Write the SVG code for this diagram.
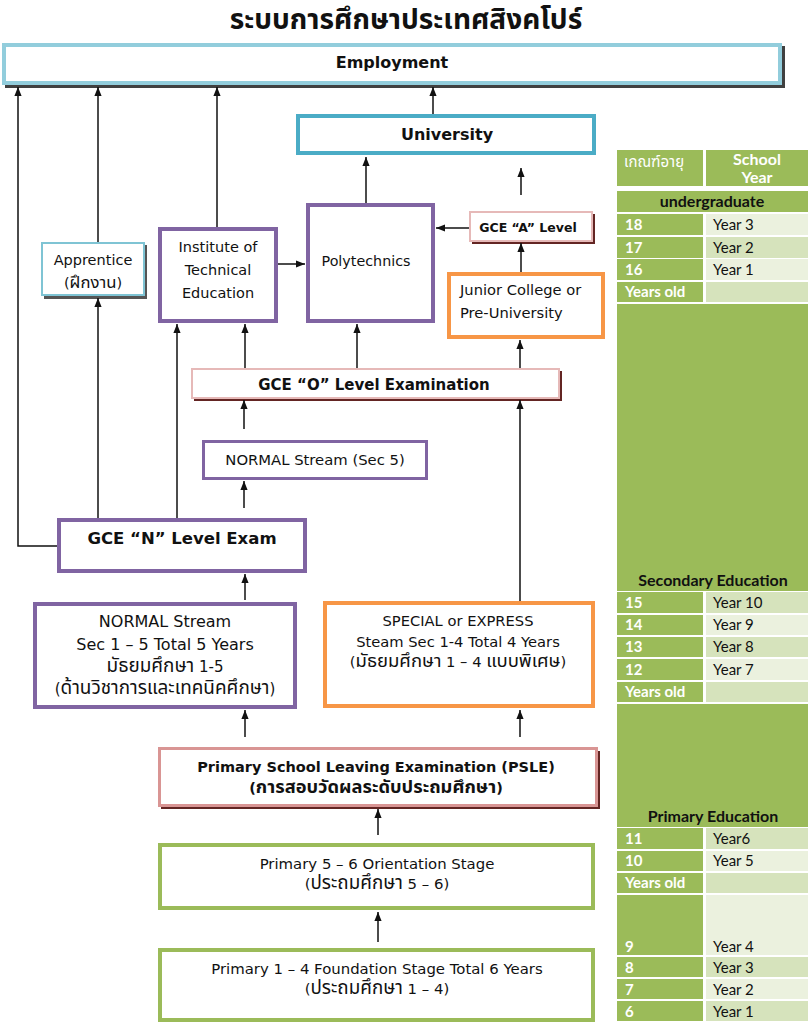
<svg xmlns="http://www.w3.org/2000/svg" width="812" height="1024" viewBox="0 0 812 1024">
<defs>
<marker id="ah" viewBox="0 0 10 8" markerWidth="9" markerHeight="8" refX="10" refY="4" orient="auto" markerUnits="userSpaceOnUse">
<path d="M0,0 L10,4 L0,8 z" fill="#111"/>
</marker>
<style>
.t{font-family:"DejaVu Sans","Noto Sans Thai","Tahoma",sans-serif;fill:#111;text-anchor:middle}
.b{font-weight:bold}
.th{font-size:1.26em}
.box{fill:#fff}
.pu{stroke:#8064a2;stroke-width:4}
.or{stroke:#f79646;stroke-width:4}
.gr{stroke:#9bbb59;stroke-width:4}
.bl{stroke:#4bacc6;stroke-width:4}
.pk{stroke:#e6b9b8;stroke-width:2}
.sh{fill:#632523}
.c{fill:none;stroke:#111;stroke-width:1.5;marker-end:url(#ah)}
.g{fill:#9bbb59}
.l{fill:#ebf1de}
.m{fill:#d6e3bc}
.tt{font-family:"Lato","Open Sans","Noto Sans Thai",sans-serif;font-size:15px}
.w{fill:#fff;font-weight:bold}
.k{fill:#111}
.hd{font-size:16px;font-weight:bold;text-anchor:middle}
</style>
</defs>
<rect width="812" height="1024" fill="#fff"/>

<text class="t b" x="406" y="29" style="font-size:28px">ระบบการศึกษาประเทศสิงคโปร์</text>

<g id="employment">
<rect x="5" y="46" width="780" height="42" fill="#404040"/>
<rect class="box" x="4" y="45" width="776" height="38" stroke="#92cddc" stroke-width="4"/>
<text class="t b" x="392" y="68" style="font-size:16px">Employment</text>
</g>

<g id="university">
<rect class="box bl" x="298" y="116" width="296" height="37"/>
<text class="t b" x="447" y="140" style="font-size:16px">University</text>
</g>

<g id="apprentice">
<rect x="44" y="245" width="103" height="54" fill="#555"/>
<rect class="box" x="42" y="243" width="102" height="52" stroke="#7fc4d4" stroke-width="2"/>
<text class="t" x="93" y="265" style="font-size:14.5px">Apprentice</text>
<text class="t" x="93" y="288" style="font-size:14.5px">(<tspan style="font-size:1.15em">ฝึกงาน</tspan>)</text>
</g>

<g id="ite">
<rect class="box pu" x="160" y="229" width="116" height="92"/>
<text class="t" x="218" y="252" style="font-size:14.5px">Institute of</text>
<text class="t" x="218" y="275" style="font-size:14.5px">Technical</text>
<text class="t" x="218" y="298" style="font-size:14.5px">Education</text>
</g>

<g id="polytechnics">
<rect class="box pu" x="308" y="205" width="125" height="116"/>
<text class="t" x="366" y="266" style="font-size:14.3px">Polytechnics</text>
</g>

<g id="gce-a">
<rect class="sh" x="472" y="214" width="123" height="30"/>
<rect class="box pk" x="470" y="212" width="122" height="29"/>
<text class="t b" x="528" y="232" style="font-size:12.5px">GCE “A” Level</text>
</g>

<g id="junior-college">
<rect class="box or" x="449" y="274" width="154" height="63"/>
<text class="t" x="460" y="295" style="font-size:14.7px;text-anchor:start">Junior College or</text>
<text class="t" x="460" y="318" style="font-size:14.7px;text-anchor:start">Pre-University</text>
</g>

<g id="gce-o">
<rect class="sh" x="194" y="371" width="368" height="30"/>
<rect class="box pk" x="192" y="369" width="367" height="29"/>
<text class="t b" x="374" y="390" style="font-size:15px">GCE “O” Level Examination</text>
</g>

<g id="normal-sec5">
<rect class="box" x="203.5" y="441.5" width="223" height="37" stroke="#8064a2" stroke-width="3"/>
<text class="t" x="315" y="465" style="font-size:14.8px">NORMAL Stream (Sec 5)</text>
</g>

<g id="gce-n">
<rect class="box pu" x="59" y="520" width="246" height="51"/>
<text class="t b" x="182" y="544" style="font-size:16.5px">GCE “N” Level Exam</text>
</g>

<g id="normal-stream">
<rect class="box pu" x="35" y="604" width="260" height="103"/>
<text class="t" x="165" y="627" style="font-size:16px">NORMAL Stream</text>
<text class="t" x="165" y="650" style="font-size:16px">Sec 1 – 5 Total 5 Years</text>
<text class="t" x="165" y="672" style="font-size:15px"><tspan class="th">มัธยมศึกษา</tspan> 1-5</text>
<text class="t" x="165" y="694" style="font-size:15px">(<tspan class="th">ด้านวิชาการและเทคนิคศึกษา</tspan>)</text>
</g>

<g id="special-express">
<rect class="box or" x="325" y="603" width="268" height="103"/>
<text class="t" x="458" y="626" style="font-size:14.7px">SPECIAL or EXPRESS</text>
<text class="t" x="458" y="647" style="font-size:14.7px">Steam Sec 1-4 Total 4 Years</text>
<text class="t" x="458" y="667" style="font-size:14.7px">(<tspan class="th">มัธยมศึกษา</tspan> 1 – 4 <tspan class="th">แบบพิเศษ</tspan>)</text>
</g>

<g id="psle">
<rect class="sh" x="161" y="751" width="439" height="58"/>
<rect class="box" x="159.5" y="748.5" width="437" height="57" stroke="#d99594" stroke-width="3"/>
<text class="t b" x="376" y="772" style="font-size:14.5px">Primary School Leaving Examination (PSLE)</text>
<text class="t b" x="376" y="793" style="font-size:14.5px">(<tspan class="th">การสอบวัดผลระดับประถมศึกษา</tspan>)</text>
</g>

<g id="primary-5-6">
<rect class="box gr" x="160" y="845" width="433" height="63"/>
<text class="t" x="377" y="869" style="font-size:14.9px">Primary 5 – 6 Orientation Stage</text>
<text class="t" x="377" y="889" style="font-size:14.9px">(<tspan class="th">ประถมศึกษา</tspan> 5 – 6)</text>
</g>

<g id="primary-1-4">
<rect class="box gr" x="160" y="950" width="433" height="70"/>
<text class="t" x="377" y="974" style="font-size:14.9px">Primary 1 – 4 Foundation Stage Total 6 Years</text>
<text class="t" x="377" y="994" style="font-size:14.9px">(<tspan class="th">ประถมศึกษา</tspan> 1 – 4)</text>
</g>

<g id="connectors">
<polyline class="c" points="57,546 18,546 18,87"/>
<line class="c" x1="98" y1="242" x2="98" y2="87"/>
<line class="c" x1="217" y1="227" x2="217" y2="87"/>
<line class="c" x1="433" y1="114" x2="433" y2="87"/>
<line class="c" x1="366" y1="203" x2="366" y2="157"/>
<line class="c" x1="521" y1="195" x2="521" y2="168"/>
<line class="c" x1="521" y1="272" x2="521" y2="243"/>
<line class="c" x1="469" y1="228" x2="436" y2="228"/>
<line class="c" x1="278" y1="264" x2="305" y2="264"/>
<line class="c" x1="98" y1="518" x2="98" y2="298"/>
<line class="c" x1="177" y1="518" x2="177" y2="324"/>
<line class="c" x1="245" y1="368" x2="245" y2="324"/>
<line class="c" x1="357" y1="368" x2="357" y2="324"/>
<line class="c" x1="520" y1="368" x2="520" y2="340"/>
<line class="c" x1="244" y1="429" x2="244" y2="400"/>
<line class="c" x1="244" y1="508" x2="244" y2="481"/>
<line class="c" x1="520" y1="601" x2="520" y2="400"/>
<line class="c" x1="245" y1="600" x2="245" y2="574"/>
<line class="c" x1="245" y1="737" x2="245" y2="710"/>
<line class="c" x1="520" y1="737" x2="520" y2="710"/>
<line class="c" x1="378" y1="835" x2="378" y2="809"/>
<line class="c" x1="378" y1="942" x2="378" y2="912"/>
</g>

<g id="age-table" class="tt">
<rect class="g" x="617" y="150" width="86" height="36"/>
<rect class="g" x="706" y="150" width="102" height="36"/>
<text x="624" y="167" style="fill:#fff;font-size:15px">เกณฑ์อายุ</text>
<text class="w hd" x="757" y="165">School</text>
<text class="w hd" x="757" y="183">Year</text>

<rect class="g" x="617" y="191" width="191" height="21"/>
<text class="k hd" x="712" y="207">undergraduate</text>

<rect class="g" x="617" y="214" width="86" height="21"/><rect class="l" x="706" y="214" width="102" height="21"/>
<text class="w" x="625" y="230">18</text><text class="k" x="713" y="230">Year 3</text>
<rect class="g" x="617" y="237" width="86" height="21"/><rect class="m" x="706" y="237" width="102" height="21"/>
<text class="w" x="625" y="253">17</text><text class="k" x="713" y="253">Year 2</text>
<rect class="g" x="617" y="259" width="86" height="21"/><rect class="l" x="706" y="259" width="102" height="21"/>
<text class="w" x="625" y="275">16</text><text class="k" x="713" y="275">Year 1</text>
<rect class="g" x="617" y="282" width="86" height="20"/><rect class="m" x="706" y="282" width="102" height="20"/>
<text class="w" x="625" y="297">Years old</text>

<rect class="g" x="617" y="304" width="191" height="287"/>
<text class="k hd" x="713" y="586">Secondary Education</text>

<rect class="g" x="617" y="592" width="86" height="21"/><rect class="m" x="706" y="592" width="102" height="21"/>
<text class="w" x="625" y="608">15</text><text class="k" x="713" y="608">Year 10</text>
<rect class="g" x="617" y="615" width="86" height="20"/><rect class="l" x="706" y="615" width="102" height="20"/>
<text class="w" x="625" y="630">14</text><text class="k" x="713" y="630">Year 9</text>
<rect class="g" x="617" y="637" width="86" height="20"/><rect class="m" x="706" y="637" width="102" height="20"/>
<text class="w" x="625" y="652">13</text><text class="k" x="713" y="652">Year 8</text>
<rect class="g" x="617" y="659" width="86" height="21"/><rect class="l" x="706" y="659" width="102" height="21"/>
<text class="w" x="625" y="675">12</text><text class="k" x="713" y="675">Year 7</text>
<rect class="g" x="617" y="682" width="86" height="20"/><rect class="m" x="706" y="682" width="102" height="20"/>
<text class="w" x="625" y="697">Years old</text>

<rect class="g" x="617" y="704" width="191" height="123"/>
<text class="k hd" x="713" y="822">Primary Education</text>

<rect class="g" x="617" y="828" width="86" height="21"/><rect class="m" x="706" y="828" width="102" height="21"/>
<text class="w" x="625" y="844">11</text><text class="k" x="713" y="844">Year6</text>
<rect class="g" x="617" y="851" width="86" height="20"/><rect class="l" x="706" y="851" width="102" height="20"/>
<text class="w" x="625" y="866">10</text><text class="k" x="713" y="866">Year 5</text>
<rect class="g" x="617" y="873" width="86" height="20"/><rect class="m" x="706" y="873" width="102" height="20"/>
<text class="w" x="625" y="888">Years old</text>
<rect class="g" x="617" y="895" width="86" height="60"/><rect class="l" x="706" y="895" width="102" height="60"/>
<text class="w" x="625" y="952">9</text><text class="k" x="713" y="952">Year 4</text>
<rect class="g" x="617" y="957" width="86" height="20"/><rect class="m" x="706" y="957" width="102" height="20"/>
<text class="w" x="625" y="973">8</text><text class="k" x="713" y="973">Year 3</text>
<rect class="g" x="617" y="979" width="86" height="20"/><rect class="l" x="706" y="979" width="102" height="20"/>
<text class="w" x="625" y="995">7</text><text class="k" x="713" y="995">Year 2</text>
<rect class="g" x="617" y="1001" width="86" height="20"/><rect class="m" x="706" y="1001" width="102" height="20"/>
<text class="w" x="625" y="1017">6</text><text class="k" x="713" y="1017">Year 1</text>
</g>
</svg>
